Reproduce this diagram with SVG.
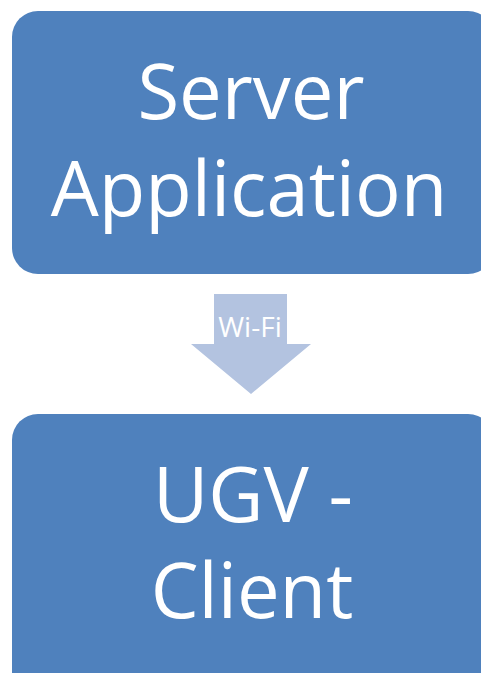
<svg xmlns="http://www.w3.org/2000/svg" width="481" height="673" viewBox="0 0 481 673">
<style>
.box{fill:#4F81BD}
.big{font-family:"Open Sans","Noto Sans",sans-serif;font-size:76px;fill:#FFFFFF;text-anchor:middle}
.lbl{font-family:"Open Sans","Noto Sans",sans-serif;font-size:28px;fill:#FFFFFF;text-anchor:middle}
.arrow{fill:#B3C3E0}
</style>
<rect x="0" y="0" width="481" height="673" fill="#FFFFFF"/>
<g id="server">
<rect class="box" x="12" y="11" width="482" height="263" rx="26" ry="26"/>
<text class="big" x="251" y="119">Server</text>
<text class="big" x="249" y="216">Application</text>
</g>
<g id="connectors">
<g id="wifi-arrow">
<polygon class="arrow" points="214,294 287,294 287,344 311,344 251,394 191,344 214,344"/>
<text class="lbl" x="250" y="337">Wi-Fi</text>
</g>
</g>
<g id="client">
<rect class="box" x="12" y="414" width="482" height="290" rx="26" ry="26"/>
<text class="big" x="253" y="522">UGV -</text>
<text class="big" x="252" y="618">Client</text>
</g>
</svg>
